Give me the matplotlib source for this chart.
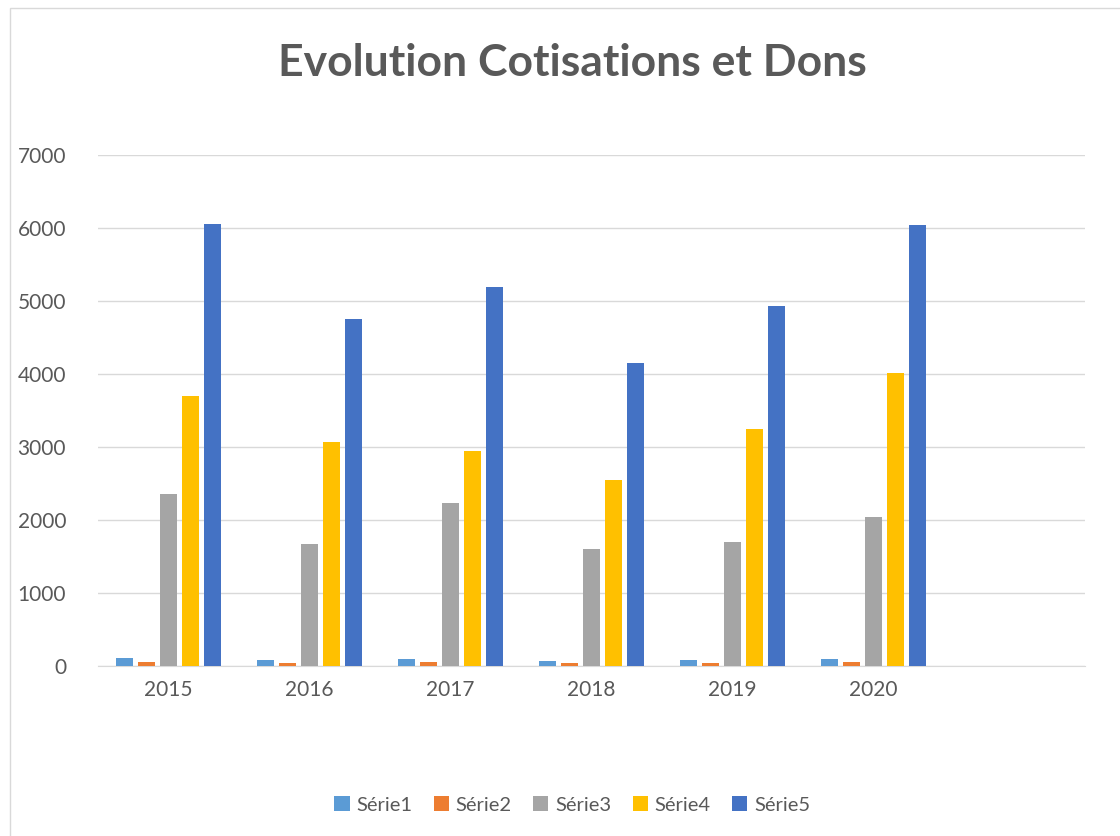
import numpy as np
import matplotlib.pyplot as plt
from matplotlib.patches import Rectangle

years = ['2015', '2016', '2017', '2018', '2019', '2020']
serie1 = [110, 80, 100, 75, 80, 95]
serie2 = [50, 35, 50, 45, 35, 55]
serie3 = [2350, 1675, 2235, 1600, 1700, 2040]
serie4 = [3700, 3070, 2945, 2550, 3240, 4010]
serie5 = [6055, 4750, 5190, 4150, 4935, 6045]
names = ['Série1', 'Série2', 'Série3', 'Série4', 'Série5']
colors = ['#5b9bd5', '#ed7d31', '#a5a5a5', '#ffc000', '#4472c4']

plt.rcParams['font.family'] = ['Lato', 'DejaVu Sans']
txt = '#595959'

fig = plt.figure(figsize=(11.2, 8.36), dpi=100)
ax = fig.add_axes([0.0875, 0.2033, 0.8815, 0.6113])

x = np.arange(len(years))
width = 0.12
pitch = 0.156
for i, vals in enumerate([serie1, serie2, serie3, serie4, serie5]):
    ax.bar(x + (i - 2) * pitch, vals, width, color=colors[i], label=names[i], zorder=3)

ax.set_xlim(-0.5, 6.5)
ax.set_ylim(0, 7000)
ax.set_yticks(range(0, 7001, 1000))
ax.set_xticks(x)
ax.set_xticklabels(years)
ax.tick_params(axis='both', length=0, colors=txt, labelsize=15)
ax.tick_params(axis='y', pad=23)
ax.tick_params(axis='x', pad=10)
ax.grid(axis='y', color='#d9d9d9', linewidth=1, zorder=0)
for s in ['top', 'right', 'left']:
    ax.spines[s].set_visible(False)
ax.spines['bottom'].set_color('#d9d9d9')

fig.text(0.511, 0.925, 'Evolution Cotisations et Dons', ha='center', va='center',
         fontsize=32, fontweight='bold', color=txt)

fig.legend(loc='center', bbox_to_anchor=(0.511, 0.037), ncol=5, frameon=False,
           fontsize=14.5, labelcolor=txt, handlelength=0.75, handleheight=0.75,
           columnspacing=1.05, handletextpad=0.35)

fig.patches.append(Rectangle((0.009, -0.01), 1.2, 1.0, transform=fig.transFigure,
                             fill=False, edgecolor='#d9d9d9', linewidth=1))

fig.savefig('out.png', dpi=100)
